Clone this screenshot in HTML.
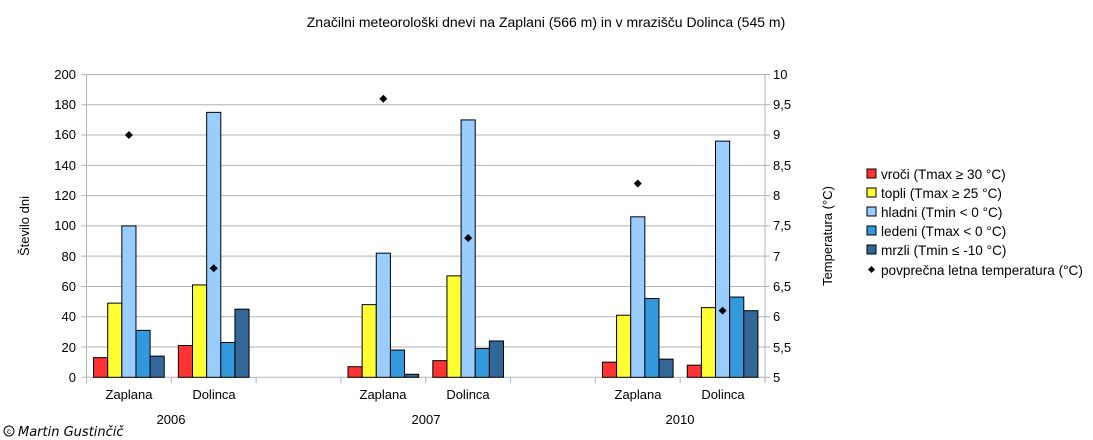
<!DOCTYPE html>
<html><head><meta charset="utf-8"><style>
body{margin:0;background:#fff;}
svg{display:block;font-family:"Liberation Sans",sans-serif;}
</style></head><body>
<svg id="s" width="1093" height="440" xmlns="http://www.w3.org/2000/svg">
<text x="546" y="27" font-size="14" text-anchor="middle" fill="#000">Značilni meteorološki dnevi na Zaplani (566 m) in v mrazišču Dolinca (545 m)</text>
<g id="grid"></g>
<g font-size="13" fill="#000" text-anchor="end" id="ly">
<text x="76" y="382">0</text><text x="76" y="352">20</text><text x="76" y="321">40</text><text x="76" y="291">60</text><text x="76" y="261">80</text><text x="76" y="230">100</text><text x="76" y="200">120</text><text x="76" y="170">140</text><text x="76" y="139">160</text><text x="76" y="109">180</text><text x="76" y="79">200</text>
</g>
<g font-size="13" fill="#000" text-anchor="start">
<text x="773" y="382">5</text><text x="773" y="352">5,5</text><text x="773" y="321">6</text><text x="773" y="291">6,5</text><text x="773" y="261">7</text><text x="773" y="230">7,5</text><text x="773" y="200">8</text><text x="773" y="170">8,5</text><text x="773" y="139">9</text><text x="773" y="109">9,5</text><text x="773" y="79">10</text>
</g>
<text transform="translate(29,226) rotate(-90)" font-size="13" text-anchor="middle">Število dni</text>
<text transform="translate(832,236) rotate(-90)" font-size="13" text-anchor="middle">Temperatura (°C)</text>
<g font-size="13" text-anchor="middle">
<text x="129" y="399">Zaplana</text><text x="214" y="399">Dolinca</text>
<text x="383" y="399">Zaplana</text><text x="468" y="399">Dolinca</text>
<text x="638" y="399">Zaplana</text><text x="723" y="399">Dolinca</text>
<text x="171" y="424">2006</text><text x="426" y="424">2007</text><text x="680" y="424">2010</text>
</g>
<g id="bars"></g>
<g font-size="13.6">
<rect x="867" y="169" width="9" height="9" fill="#ff3333" stroke="#000"/><text x="881" y="179">vroči (Tmax ≥ 30 °C)</text>
<rect x="867" y="188" width="9" height="9" fill="#ffff33" stroke="#000"/><text x="881" y="198">topli (Tmax ≥ 25 °C)</text>
<rect x="867" y="207" width="9" height="9" fill="#99ccff" stroke="#000"/><text x="881" y="217">hladni (Tmin &lt; 0 °C)</text>
<rect x="867" y="226" width="9" height="9" fill="#3399dd" stroke="#000"/><text x="881" y="236">ledeni (Tmax &lt; 0 °C)</text>
<rect x="867" y="245" width="9" height="9" fill="#336699" stroke="#000"/><text x="881" y="255">mrzli (Tmin ≤ -10 °C)</text>
<path d="M871.5 266 l3.5 3.5 -3.5 3.5 -3.5 -3.5z" fill="#000"/><text x="881" y="275">povprečna letna temperatura (°C)</text>
</g>
<text x="18" y="436" font-size="13" font-style="italic" font-family="'DejaVu Sans',sans-serif">Martin Gustinčič</text>
<circle cx="9" cy="431" r="5" fill="none" stroke="#000" stroke-width="1"/><text x="9" y="434" font-size="8" text-anchor="middle">c</text>
</svg>
<script>
var ns="http://www.w3.org/2000/svg";
function el(p,t,a){var e=document.createElementNS(ns,t);for(var k in a)e.setAttribute(k,a[k]);p.appendChild(e);return e;}
var g=document.getElementById('grid'),b=document.getElementById('bars');
var L=86.5,R=765,T=74.5,B=377.3,cw=(R-L)/8,u=(B-T)/200;
for(var i=0;i<=10;i++){var y=B-i*20*u;el(g,'line',{x1:L-5,x2:R+5,y1:y,y2:y,stroke:'#b3b3b3','stroke-width':1});}
el(g,'line',{x1:L,x2:L,y1:T,y2:B+6,stroke:'#b3b3b3'});el(g,'line',{x1:R,x2:R,y1:T,y2:B+6,stroke:'#b3b3b3'});
for(var i=1;i<8;i++){var x=L+i*cw;el(g,'line',{x1:x,x2:x,y1:B,y2:B+6,stroke:'#b3b3b3'});}
var cols=['#ff3333','#ffff33','#99ccff','#3399dd','#336699'];
var data={0:[13,49,100,31,14,9.0],1:[21,61,175,23,45,6.8],3:[7,48,82,18,2,9.6],4:[11,67,170,19,24,7.3],6:[10,41,106,52,12,8.2],7:[8,46,156,53,44,6.1]};
var bw=cw/6;
for(var c in data){var d=data[c],x0=L+c*cw+bw/2;
for(var j=0;j<5;j++){var h=d[j]*u;el(b,'rect',{x:x0+j*bw,y:B-h,width:bw,height:h,fill:cols[j],stroke:'#000','stroke-width':1});}
var tx=L+(+c+0.5)*cw,ty=B-(d[5]-5)*(B-T)/5;
el(b,'path',{d:'M'+tx+' '+(ty-4)+' l4 4 -4 4 -4 -4z',fill:'#000'});}
</script>
</body></html>
